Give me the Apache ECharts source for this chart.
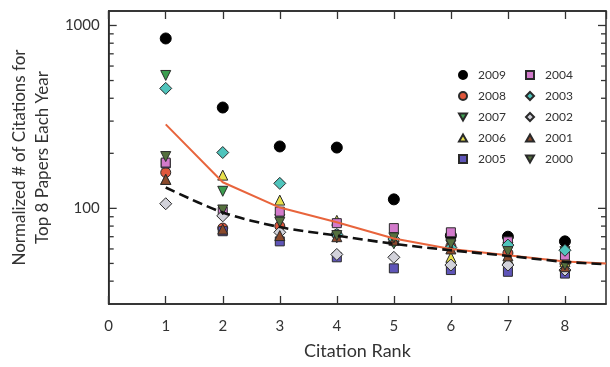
<!DOCTYPE html>
<html>
<head>
<meta charset="utf-8">
<script src="https://cdn.jsdelivr.net/npm/echarts@6/dist/echarts.min.js"></script>
<style>
html,body{margin:0;padding:0;background:#fff;}
#chart{width:610px;height:367px;}
</style>
</head>
<body>
<div id="chart"></div>
<script>
// ---- data ----
var ranks = [1, 2, 3, 4, 5, 6, 7, 8];
var years = ['2009','2008','2007','2006','2005','2004','2003','2002','2001','2000'];
var v2009 = [849, 356, 218, 215, 112, 71, 70, 66];
var v2008 = [157, 78, 80, 72, 66, 62, 57, 50];
var v2007 = [533, 124, 87, 69, 64, 63, 61, 58];
var v2006 = [144, 152, 111, 86, 70, 54, 53, 51];
var v2005 = [176, 75, 66, 54, 47, 46, 45, 44];
var v2004 = [178, 96, 96, 83, 78, 74, 66, 55];
var v2003 = [453, 202, 137, 72, 68, 61, 63, 59];
var v2002 = [106, 91, 74, 56, 54, 49, 49, 46];
var v2001 = [144, 77, 71, 70, 67, 60, 55, 48];
var v2000 = [192, 98, 84, 71, 69, 64, 58, 49];
var fitX = [1, 2, 3, 4, 5, 6, 7, 8, 8.72];
var meanLine = [288, 139, 101, 84, 68.5, 60, 55.4, 51.3, 50];
var fitLine = [130, 95, 79, 71, 64, 59, 55, 51, 49.5];
var xTicks = [0, 1, 2, 3, 4, 5, 6, 7, 8];
var yMajorTicks = [100, 1000];
var yMinorTicks = [40, 50, 60, 70, 80, 90, 200, 300, 400, 500, 600, 700, 800, 900];
var xAxisTitle = 'Citation Rank';
var yAxisTitle = 'Normalized # of Citations for\nTop 8 Papers Each Year';

// ---- styles ----
var FONT = 'Lato';
var colors = {
  '2009': '#000000', '2008': '#e0573c', '2007': '#3c9e50', '2006': '#e8e04c',
  '2005': '#5f55b8', '2004': '#d27acb', '2003': '#4fc4bc', '2002': '#d2d2da',
  '2001': '#8b4a2c', '2000': '#55703e'
};
var DIAMOND = 'path://M0,-1L1,0L0,1L-1,0Z';
var TRI_DOWN = 'path://M-1,-0.85L1,-0.85L0,0.9Z';
var TRI_UP = 'path://M-1,0.85L1,0.85L0,-0.9Z';
var symbols = {
  '2009': 'circle', '2008': 'circle', '2007': TRI_DOWN, '2006': TRI_UP,
  '2005': 'rect', '2004': 'rect', '2003': DIAMOND, '2002': DIAMOND,
  '2001': TRI_UP, '2000': TRI_DOWN
};
var sizes = {
  '2009': 11, '2008': 10, '2007': 10, '2006': 10, '2005': 9, '2004': 9,
  '2003': 12, '2002': 12, '2001': 10, '2000': 10
};
var valuesByYear = {
  '2009': v2009, '2008': v2008, '2007': v2007, '2006': v2006, '2005': v2005,
  '2004': v2004, '2003': v2003, '2002': v2002, '2001': v2001, '2000': v2000
};

var chart = echarts.init(document.getElementById('chart'), null, {renderer: 'canvas'});

function pairs(xs, ys) { return xs.map(function (x, i) { return [x, ys[i]]; }); }

var scatterSeries = years.map(function (y) {
  return {
    name: y,
    type: 'scatter',
    data: pairs(ranks, valuesByYear[y]),
    symbol: symbols[y],
    symbolSize: sizes[y],
    itemStyle: {
      color: colors[y],
      borderColor: y === '2009' ? '#000' : '#2a2a2a',
      borderWidth: 1,
      opacity: 1
    },
    z: 3
  };
});

function tickSeries(vals, len) {
  return {
    type: 'custom',
    silent: true,
    clip: false,
    data: vals.map(function (v) { return [0, v]; }),
    renderItem: function (params, api) {
      var p = api.coord([api.value(0), api.value(1)]);
      var cs = params.coordSys;
      return {
        type: 'group',
        children: [
          {type: 'line', shape: {x1: cs.x, y1: p[1], x2: cs.x + len, y2: p[1]}, style: {stroke: '#333', lineWidth: 1.3}},
          {type: 'line', shape: {x1: cs.x + cs.width - len, y1: p[1], x2: cs.x + cs.width, y2: p[1]}, style: {stroke: '#333', lineWidth: 1.3}}
        ]
      };
    },
    z: 5
  };
}

var legendCommon = {
  orient: 'vertical', top: 64,
  itemWidth: 8, itemHeight: 8, itemGap: 9,
  textStyle: {fontFamily: FONT, fontSize: 12, color: '#333', padding: [0, 0, 0, 6]},
  selectedMode: false
};

var option = {
  backgroundColor: '#ffffff',
  animation: false,
  textStyle: {fontFamily: FONT},
  grid: {left: 108, right: 4, top: 11, bottom: 63, show: true, borderColor: '#2a2a2a', borderWidth: 1.5, backgroundColor: 'transparent'},
  legend: [
    Object.assign({}, legendCommon, {data: years.slice(0, 5), left: 453}),
    Object.assign({}, legendCommon, {data: years.slice(5), left: 520})
  ],
  xAxis: [
    {
      type: 'value', min: 0, max: 8.72, interval: 1, position: 'bottom',
      name: xAxisTitle, nameLocation: 'middle', nameGap: 38,
      nameTextStyle: {fontFamily: FONT, fontSize: 18, color: '#333'},
      axisLine: {show: true, onZero: false, lineStyle: {color: '#2a2a2a', width: 1.5}},
      axisTick: {show: true, inside: true, length: 8, lineStyle: {color: '#333', width: 1.3}},
      axisLabel: {show: true, margin: 15, fontFamily: FONT, fontSize: 15, color: '#333', showMaxLabel: false,
        formatter: function (v) { return xTicks.indexOf(v) >= 0 ? String(v) : ''; }},
      splitLine: {show: false}
    },
    {
      type: 'value', min: 0, max: 8.72, interval: 1, position: 'top',
      axisLine: {show: true, onZero: false, lineStyle: {color: '#2a2a2a', width: 1.5}},
      axisTick: {show: true, inside: true, length: 8, lineStyle: {color: '#333', width: 1.3}},
      axisLabel: {show: false},
      splitLine: {show: false}
    }
  ],
  yAxis: [
    {
      type: 'log', logBase: 10, min: 30, max: 1200,
      name: yAxisTitle, nameLocation: 'middle', nameRotate: 90, nameGap: 54,
      nameTextStyle: {fontFamily: FONT, fontSize: 17, color: '#333', lineHeight: 23, align: 'center'},
      axisLine: {show: true, onZero: false, lineStyle: {color: '#2a2a2a', width: 1.5}},
      axisTick: {show: false},
      axisLabel: {show: true, margin: 9, fontFamily: FONT, fontSize: 15, color: '#333', showMinLabel: false, showMaxLabel: false,
        formatter: function (v) { return yMajorTicks.indexOf(Math.round(v)) >= 0 ? String(Math.round(v)) : ''; }},
      splitLine: {show: false},
      minorSplitLine: {show: false}
    }
  ],
  series: scatterSeries.concat([
    {
      name: 'mean', type: 'line', data: pairs(fitX, meanLine), symbol: 'none',
      lineStyle: {color: '#e8643c', width: 2}, z: 6, silent: true
    },
    {
      name: 'fit', type: 'line', data: pairs(fitX, fitLine), symbol: 'none', smooth: 0.3,
      lineStyle: {color: '#111', width: 2.6, type: [10, 5]}, z: 7, silent: true
    },
    tickSeries(yMajorTicks, 8),
    tickSeries(yMinorTicks, 5)
  ])
};
chart.setOption(option);
</script>
</body>
</html>
